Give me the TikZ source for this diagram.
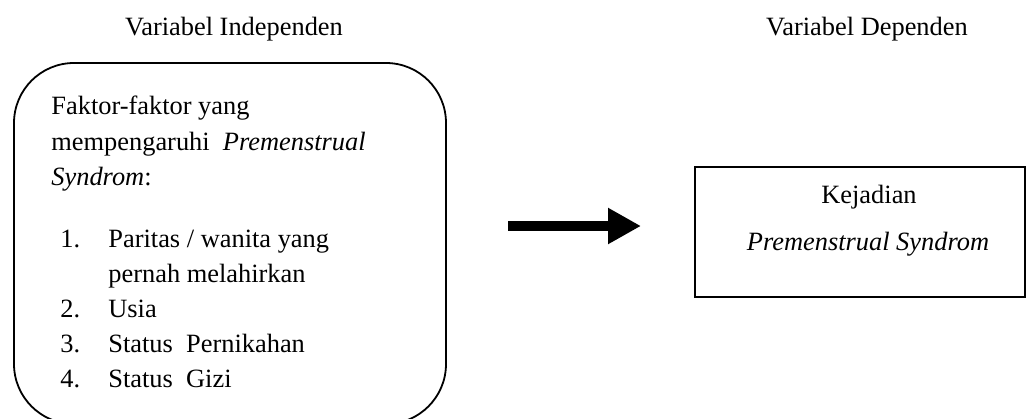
\documentclass[tikz,border=0pt]{standalone}
\usepackage{fontspec}
\setmainfont{Liberation Serif}
\usetikzlibrary{arrows.meta}

\begin{document}
\begin{tikzpicture}[x=0.5pt, y=-0.5pt, font=\fontsize{13.2}{15}\selectfont,
	txt/.style={anchor=base west, inner sep=0pt},
	heading/.style={anchor=base, inner sep=0pt}]
	\useasboundingbox (0,0) rectangle (1027,418);
	
	\node[heading] at (234,35) (h1) {Variabel Independen};
	\node[heading] at (867,35) (h2) {Variabel Dependen};
	
	\node at (230,243.5) [draw, line width=0.9pt, rounded corners=30pt, minimum width=216pt, minimum height=180.5pt] (indep) {};
	\node at (860,232) [draw, line width=0.9pt, minimum width=165pt, minimum height=65pt] (dep) {};
	
	\node[txt] at (51,114) (t1) {Faktor-faktor yang};
	\node[txt] at (51,150) (t2) {mempengaruhi\ \ \textit{Premenstrual}};
	\node[txt] at (51,185) (t3) {\textit{Syndrom}:};
	
	\node[txt] at (60,247) (n1) {1.};
	\node[txt] at (108,247) (i1) {Paritas / wanita yang};
	\node[txt] at (108,282) (i1b) {pernah melahirkan};
	\node[txt] at (60,317) (n2) {2.};
	\node[txt] at (108,317) (i2) {Usia};
	\node[txt] at (60,352) (n3) {3.};
	\node[txt] at (108,352) (i3) {Status\ \ Pernikahan};
	\node[txt] at (60,387) (n4) {4.};
	\node[txt] at (108,387) (i4) {Status\ \ Gizi};
	
	\node[heading] at (869,203) (k1) {Kejadian};
	\node[heading] at (868,250) (k2) {\textit{Premenstrual Syndrom}};
	
	\coordinate (a0) at (508,226);
	\coordinate (a1) at (641,226);
	\draw [line width=5pt, -{Triangle[length=16.5pt, width=17pt]}] (a0) -- (a1);
\end{tikzpicture}
\end{document}
